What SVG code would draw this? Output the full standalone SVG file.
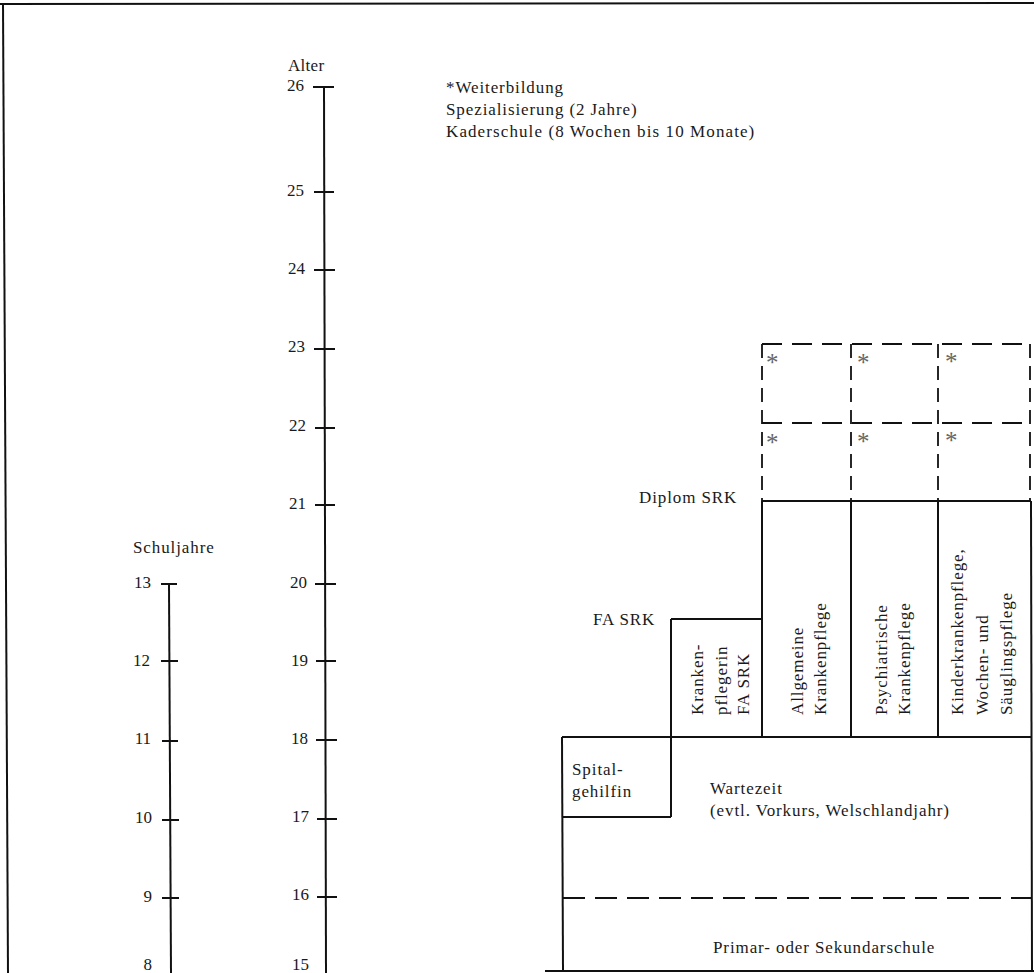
<svg xmlns="http://www.w3.org/2000/svg" width="1034" height="973" viewBox="0 0 1034 973">
<style>
text{font-family:"Liberation Serif","Times New Roman",serif;font-size:17px;fill:#1a1a1a;letter-spacing:0.9px}
.num{text-anchor:end;letter-spacing:0}
.ln{stroke:#111;stroke-width:2;fill:none}
.dh{stroke:#111;stroke-width:2;fill:none;stroke-dasharray:20 10}
.dv{stroke:#111;stroke-width:1.8;fill:none;stroke-dasharray:14 8}
.ast{font-size:25px;fill:#666;letter-spacing:0}
</style>
<rect width="1034" height="973" fill="#fff"/>
<g id="frame">
<line class="ln" x1="0" y1="4" x2="1034" y2="3"/>
<line class="ln" x1="3" y1="3" x2="8" y2="973"/>
<line class="ln" x1="545" y1="971" x2="1034" y2="971"/>
</g>
<g id="age-axis">
<text x="288" y="71" style="letter-spacing:0.3px">Alter</text>
<line class="ln" x1="324" y1="87" x2="326" y2="973"/>
<g class="ln">
<line x1="313" y1="87" x2="334" y2="87"/>
<line x1="314" y1="192" x2="334" y2="192"/>
<line x1="314" y1="270" x2="335" y2="270"/>
<line x1="314" y1="349" x2="335" y2="349"/>
<line x1="315" y1="428" x2="335" y2="428"/>
<line x1="315" y1="505" x2="335" y2="505"/>
<line x1="315" y1="584" x2="336" y2="584"/>
<line x1="316" y1="661" x2="336" y2="661"/>
<line x1="316" y1="740" x2="337" y2="740"/>
<line x1="317" y1="819" x2="337" y2="819"/>
<line x1="317" y1="897" x2="337" y2="897"/>
</g>
<text class="num" x="304" y="91">26</text>
<text class="num" x="304" y="196">25</text>
<text class="num" x="305" y="274">24</text>
<text class="num" x="305" y="352">23</text>
<text class="num" x="306" y="431">22</text>
<text class="num" x="306" y="509">21</text>
<text class="num" x="307" y="588">20</text>
<text class="num" x="308" y="666">19</text>
<text class="num" x="308" y="744">18</text>
<text class="num" x="309" y="822">17</text>
<text class="num" x="309" y="900">16</text>
<text class="num" x="309" y="970">15</text>
</g>
<g id="school-axis">
<text x="133" y="553">Schuljahre</text>
<line class="ln" x1="169" y1="584" x2="171" y2="973"/>
<g class="ln">
<line x1="161" y1="584" x2="177" y2="584"/>
<line x1="161" y1="661" x2="178" y2="661"/>
<line x1="162" y1="741" x2="178" y2="741"/>
<line x1="162" y1="820" x2="179" y2="820"/>
<line x1="162" y1="898" x2="179" y2="898"/>
</g>
<text class="num" x="151" y="588">13</text>
<text class="num" x="150" y="666">12</text>
<text class="num" x="151" y="744">11</text>
<text class="num" x="152" y="823">10</text>
<text class="num" x="152" y="902">9</text>
<text class="num" x="152" y="970">8</text>
</g>
<g id="legend">
<text x="446" y="93">*Weiterbildung</text>
<text x="446" y="115">Spezialisierung (2 Jahre)</text>
<text x="446" y="137" style="letter-spacing:1.1px">Kaderschule (8 Wochen bis 10 Monate)</text>
</g>
<g id="connectors">
<line class="dh" x1="762" y1="344" x2="1030" y2="344"/>
<line class="dh" x1="762" y1="423" x2="1030" y2="423"/>
<line class="dv" x1="762" y1="344" x2="762" y2="501"/>
<line class="dv" x1="851" y1="344" x2="851" y2="501"/>
<line class="dv" x1="938" y1="344" x2="938" y2="501"/>
<line class="dv" x1="1030" y1="344" x2="1030" y2="501"/>
<line class="ln" x1="762" y1="501" x2="1031" y2="501"/>
<line class="ln" x1="762" y1="501" x2="762" y2="738"/>
<line class="ln" x1="851" y1="501" x2="851" y2="738"/>
<line class="ln" x1="938" y1="501" x2="938" y2="738"/>
<line class="ln" x1="1031" y1="501" x2="1032" y2="971"/>
<line class="ln" x1="671" y1="619" x2="762" y2="619"/>
<line class="ln" x1="671" y1="619" x2="671" y2="817"/>
<line class="ln" x1="562" y1="737" x2="1032" y2="737"/>
<line class="ln" x1="562" y1="737" x2="563" y2="971"/>
<line class="ln" x1="562" y1="817" x2="671" y2="817"/>
<line class="dh" x1="563" y1="898" x2="1032" y2="898" style="stroke-dasharray:22 10"/>
</g>
<g id="weiterbildung-cells">
<text class="ast" x="766" y="371">*</text>
<text class="ast" x="857" y="371">*</text>
<text class="ast" x="945" y="370">*</text>
<text class="ast" x="766" y="451">*</text>
<text class="ast" x="857" y="450">*</text>
<text class="ast" x="945" y="449">*</text>
</g>
<g id="diplom-label"><text x="639" y="503">Diplom SRK</text></g>
<g id="fa-label"><text x="593" y="625">FA SRK</text></g>
<g id="krankenpflegerin">
<text transform="translate(703,715) rotate(-90)">Kranken-</text>
<text transform="translate(727,715) rotate(-90)">pflegerin</text>
<text transform="translate(749,715) rotate(-90)">FA SRK</text>
</g>
<g id="allgemeine">
<text transform="translate(803,715) rotate(-90)">Allgemeine</text>
<text transform="translate(826,715) rotate(-90)">Krankenpflege</text>
</g>
<g id="psychiatrische">
<text transform="translate(887,715) rotate(-90)">Psychiatrische</text>
<text transform="translate(910,715) rotate(-90)">Krankenpflege</text>
</g>
<g id="kinderkrankenpflege">
<text transform="translate(963,715) rotate(-90)">Kinderkrankenpflege,</text>
<text transform="translate(988,715) rotate(-90)">Wochen- und</text>
<text transform="translate(1012,715) rotate(-90)">Säuglingspflege</text>
</g>
<g id="spitalgehilfin">
<text x="572" y="775">Spital-</text>
<text x="572" y="797">gehilfin</text>
</g>
<g id="wartezeit">
<text x="710" y="794">Wartezeit</text>
<text x="710" y="816">(evtl. Vorkurs, Welschlandjahr)</text>
</g>
<g id="schule"><text x="713" y="953">Primar- oder Sekundarschule</text></g>
</svg>
